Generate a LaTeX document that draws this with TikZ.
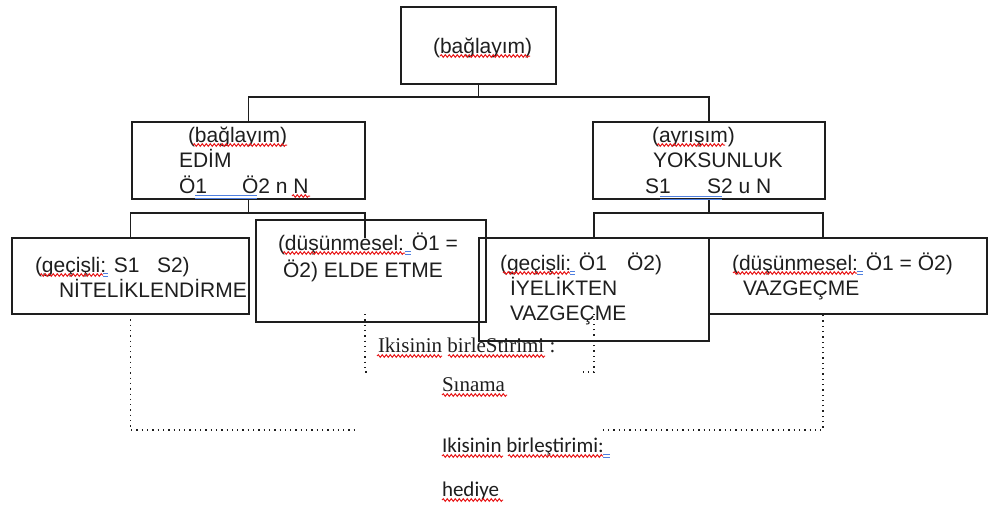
\documentclass[tikz,border=0pt]{standalone}
\usepackage{fontspec}
\setmainfont{Liberation Sans}
\newfontfamily\serifF{Liberation Serif}
\newfontfamily\calibF{Carlito}
\usetikzlibrary{decorations.pathmorphing}
\definecolor{wavered}{HTML}{E8191A}
\definecolor{gblue}{HTML}{4F7FE0}
\definecolor{ink}{HTML}{1E1E1E}
\begin{document}
\begin{tikzpicture}[x=1pt,y=-1pt,
  box/.style={draw=ink,line width=1.1pt,inner sep=0pt,outer sep=0pt},
  conn/.style={draw=ink,line width=1.1pt},
  dots/.style={draw=ink,line width=1.3pt,dash pattern=on 1.3pt off 4pt},
  cover/.style={fill=white,inner sep=0pt,outer sep=0pt},
  txt/.style={anchor=base west,inner sep=0pt,outer sep=0pt,text=ink,font=\fontsize{21}{24}\selectfont},
  stxt/.style={txt,font=\serifF\fontsize{21}{24}\selectfont},
  ctxt/.style={txt,font=\calibF\fontsize{21}{24}\selectfont},
  wave/.style={draw=wavered,line width=1pt,decorate,decoration={snake,amplitude=1.3pt,segment length=4pt}},
  gram/.style={draw=gblue,line width=1pt}
]
\useasboundingbox (0,0) rectangle (992,506);

% dotted brackets (drawn first, partly covered by the text boxes)
\coordinate (d2) at (365,314);
\coordinate (d3) at (594,314);
\coordinate (d4) at (823,314);
\coordinate (dn) at (130.5,314);
\draw[dots] (dn) -- (130.5,430) -| (d4);
\draw[dots] (d2) -- (365,372) -| (d3);

% white text boxes
\node[cover,minimum width=213pt,minimum height=20pt] (sinbox) at (476.5,372) {};
\node[cover,minimum width=244pt,minimum height=20pt] (hedbox) at (477,430) {};

% boxes
\node[box,minimum width=155pt,minimum height=77pt] (top)  at (478.5,45.5) {};
\node[box,minimum width=233pt,minimum height=77pt] (lmid) at (248.5,160.5) {};
\node[box,minimum width=232pt,minimum height=77pt] (rmid) at (709,160.5) {};
\node[box,minimum width=237pt,minimum height=76pt] (niti) at (130.5,276) {};
\node[box,minimum width=230pt,minimum height=102pt] (dus1) at (371,271) {};
\node[box,minimum width=230pt,minimum height=103pt] (iyel) at (594,289.5) {};
\node[box,minimum width=278pt,minimum height=76pt] (vazg) at (848,276) {};

% connectors
\coordinate (j0) at (478.5,97);
\draw[conn] (top.south) -- (j0);
\draw[conn] (lmid.north) -- (lmid.north |- j0) -- (rmid.north |- j0) -- (rmid.north);
\coordinate (j1) at (248.5,213);
\coordinate (e1) at (365,238);
\draw[conn] (lmid.south) -- (j1);
\draw[conn] (niti.north) -- (niti.north |- j1) -- (e1 |- j1) -- (e1);
\coordinate (j2) at (709,213);
\coordinate (e2) at (823,238);
\draw[conn] (rmid.south) -- (j2);
\draw[conn] (iyel.north) -- (iyel.north |- j2) -- (e2 |- j2) -- (e2);

% texts
\node[txt] (t0) at (433,53) {(bağlayım)};
\node[txt] (t1) at (188,142) {(bağlayım)};
\node[txt] (t2) at (179,167) {EDİM};
\node[txt] (t3a) at (179,193) {Ö1};
\node[txt] (t3b) at (242,193) {Ö2 n N};
\node[txt] (t4) at (652,142) {(ayrışım)};
\node[txt] (t5) at (653,167) {YOKSUNLUK};
\node[txt] (t6a) at (645,193) {S1};
\node[txt] (t6b) at (707,193) {S2 u N};
\node[txt] (t7a) at (35,272) {(geçişli: S1};
\node[txt] (t7b) at (157,272) {S2)};
\node[txt] (t8) at (59,297) {NİTELİKLENDİRME};
\node[txt] (t9) at (278,250) {(düşünmesel: Ö1 =};
\node[txt] (t10) at (283,277) {Ö2) ELDE ETME};
\node[txt] (t11a) at (500,270) {(geçişli: Ö1};
\node[txt] (t11b) at (627,270) {Ö2)};
\node[txt] (t12) at (510,295) {İYELİKTEN};
\node[txt] (t13) at (510,320) {VAZGEÇME};
\node[txt] (t14) at (732,270) {(düşünmesel: Ö1 = Ö2)};
\node[txt] (t15) at (743,295) {VAZGEÇME};
\node[stxt] (s1) at (378,352) {Ikisinin birleStirimi :};
\node[stxt] (s2) at (442,391) {Sınama};
\node[ctxt] (c1) at (442,452) {Ikisinin birleştirimi:};
\node[ctxt] (c2) at (442,496) {hediye};

% spelling marks
\draw[wave] (440,56) -- (530,56);
\draw[wave] (193,145) -- (287,145);
\draw[wave] (292,196) -- (310,196);
\draw[wave] (657,145) -- (725,145);
\draw[wave] (40,275) -- (103,275);
\draw[wave] (283,253) -- (405,253);
\draw[wave] (503,273) -- (570,273);
\draw[wave] (733,273) -- (857,273);
\draw[wave] (377,356) -- (442,356);
\draw[wave] (448,356) -- (545,356);
\draw[wave] (442,395) -- (507,395);
\draw[wave] (442,456) -- (503,456);
\draw[wave] (508,456) -- (603,456);
\draw[wave] (442,500) -- (503,500);
% grammar marks
\draw[gram] (195,195.5) -- (257,195.5) (195,198.5) -- (257,198.5);
\draw[gram] (660,196) -- (722,196) (660,199) -- (722,199);
\draw[gram] (103,273.5) -- (108,273.5) (103,276.5) -- (108,276.5);
\draw[gram] (405,251.5) -- (411,251.5) (405,254.5) -- (411,254.5);
\draw[gram] (570,271.5) -- (575,271.5) (570,274.5) -- (575,274.5);
\draw[gram] (857,271.5) -- (863,271.5) (857,274.5) -- (863,274.5);
\draw[gram] (603,454.5) -- (610,454.5) (603,457.5) -- (610,457.5);
\end{tikzpicture}
\end{document}
